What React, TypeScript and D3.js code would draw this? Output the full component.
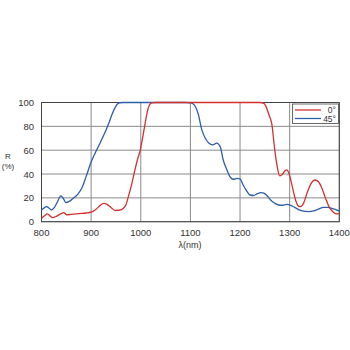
import React from "react";
import * as d3 from "d3";

const xTicks = [800, 900, 1000, 1100, 1200, 1300, 1400];
const yTicks = [0, 20, 40, 60, 80, 100];
const seriesNames = ["0°", "45°"];
const seriesColors = ["#d2312f", "#2d5ea8"];

const wl0 = [800, 806, 812, 818, 822, 830, 838, 845, 851, 860, 875, 890, 900, 910, 918, 925, 932, 940, 948, 957, 965, 970, 975, 982, 988, 994, 999, 1004, 1009, 1013, 1017, 1022, 1030, 1100, 1200, 1240, 1247, 1252, 1258, 1264, 1270, 1275, 1280, 1285, 1290, 1294, 1299, 1305, 1312, 1318, 1322, 1328, 1335, 1343, 1351, 1358, 1365, 1372, 1380, 1388, 1395, 1400];
const r0 = [2.8, 5, 6.5, 4.5, 3.4, 4.5, 6.5, 7.6, 5.8, 6.2, 6.8, 7.3, 8, 10.5, 13.5, 15.4, 14.5, 12, 9.5, 9.6, 11.3, 14, 21, 32, 43, 53, 60, 71, 83, 92, 97.5, 99.6, 100, 100, 100, 100, 99.4, 97, 90, 82, 60, 46, 38.4, 39.5, 42.5, 43.4, 40, 30, 18, 13, 12.6, 15.5, 24, 32, 35, 33.5, 28, 20, 12, 8, 6.5, 7];

const wl45 = [800, 805, 810, 815, 820, 826, 832, 839, 844, 849, 856, 864, 872, 881, 890, 899, 908, 918, 928, 936, 942, 948, 953, 958, 965, 1000, 1090, 1100, 1105, 1110, 1116, 1123, 1130, 1137, 1145, 1153, 1160, 1166, 1173, 1180, 1187, 1194, 1200, 1206, 1213, 1220, 1227, 1235, 1242, 1248, 1255, 1262, 1270, 1278, 1286, 1294, 1301, 1308, 1318, 1328, 1338, 1348, 1358, 1368, 1378, 1386, 1394, 1400];
const r45 = [9.8, 11.5, 12.6, 11.5, 9.8, 12, 16.5, 21.6, 19.5, 16, 17, 19.7, 22.5, 28, 38, 49, 57.5, 66, 75, 83, 90, 95.5, 98.8, 99.8, 100, 100, 100, 99.7, 99, 96.6, 90, 77, 70, 66, 64.5, 66, 63, 52, 44, 37.5, 35.6, 36.4, 36, 31, 26, 22.4, 22, 23.5, 24.4, 24, 21.5, 18, 15.5, 14, 13.8, 14.5, 14, 12.5, 10.2, 8.8, 8.4, 9, 10.5, 12, 12, 11, 10, 9];

export default function App() {
  const W = 350, H = 350;
  const left = 41.5, right = 339.3, top = 102.5, bottom = 221.7;
  const x = d3.scaleLinear().domain([800, 1400]).range([left, right]);
  const y = d3.scaleLinear().domain([0, 100]).range([bottom, top]);
  const line = d3.line<[number, number]>()
    .x(d => x(d[0]))
    .y(d => y(d[1]))
    .curve(d3.curveMonotoneX);
  const d0 = line(wl0.map((w, i) => [w, r0[i]] as [number, number])) || "";
  const d45 = line(wl45.map((w, i) => [w, r45[i]] as [number, number])) || "";
  const font = "Liberation Sans, Arial, sans-serif";
  const textColor = "#333";

  return (
    <svg width={W} height={H} style={{ position: "absolute", left: 0, top: 0, background: "#fff" }}>
      <rect x={0} y={0} width={W} height={H} fill="#fff" />
      {xTicks.map(t => (
        <line key={"gx" + t} x1={x(t)} x2={x(t)} y1={top} y2={bottom} stroke="#8a8a8a" strokeWidth={1} />
      ))}
      {yTicks.map(t => (
        <line key={"gy" + t} x1={left} x2={right} y1={y(t)} y2={y(t)} stroke="#8a8a8a" strokeWidth={1} />
      ))}
      <rect x={left} y={top} width={right - left} height={bottom - top} fill="none" stroke="#444" strokeWidth={1} />
      <path d={d45} fill="none" stroke={seriesColors[1]} strokeWidth={1.3} />
      <path d={d0} fill="none" stroke={seriesColors[0]} strokeWidth={1.3} />
      {xTicks.map(t => (
        <text key={"tx" + t} x={x(t)} y={236} textAnchor="middle" fontFamily={font} fontSize={9.5} fill={textColor}>{t}</text>
      ))}
      {yTicks.map(t => (
        <text key={"ty" + t} x={34} y={y(t) + 3.5} textAnchor="end" fontFamily={font} fontSize={9.5} fill={textColor}>{t}</text>
      ))}
      <text x={190} y={248} textAnchor="middle" fontFamily={font} fontSize={9} fill={textColor}>λ(nm)</text>
      <text x={8} y={159} textAnchor="middle" fontFamily={font} fontSize={8} fill={textColor}>R</text>
      <text x={8} y={168.5} textAnchor="middle" fontFamily={font} fontSize={8} fill={textColor}>(%)</text>
      <rect x={292.5} y={104} width={46} height={19.5} fill="#fff" stroke="#444" strokeWidth={0.8} />
      {seriesNames.map((n, i) => (
        <g key={n}>
          <line x1={295} x2={321} y1={110 + i * 8.5} y2={110 + i * 8.5} stroke={seriesColors[i]} strokeWidth={1.3} />
          <text x={336} y={113 + i * 8.5} textAnchor="end" fontFamily={font} fontSize={8.5} fill={textColor}>{n}</text>
        </g>
      ))}
    </svg>
  );
}
